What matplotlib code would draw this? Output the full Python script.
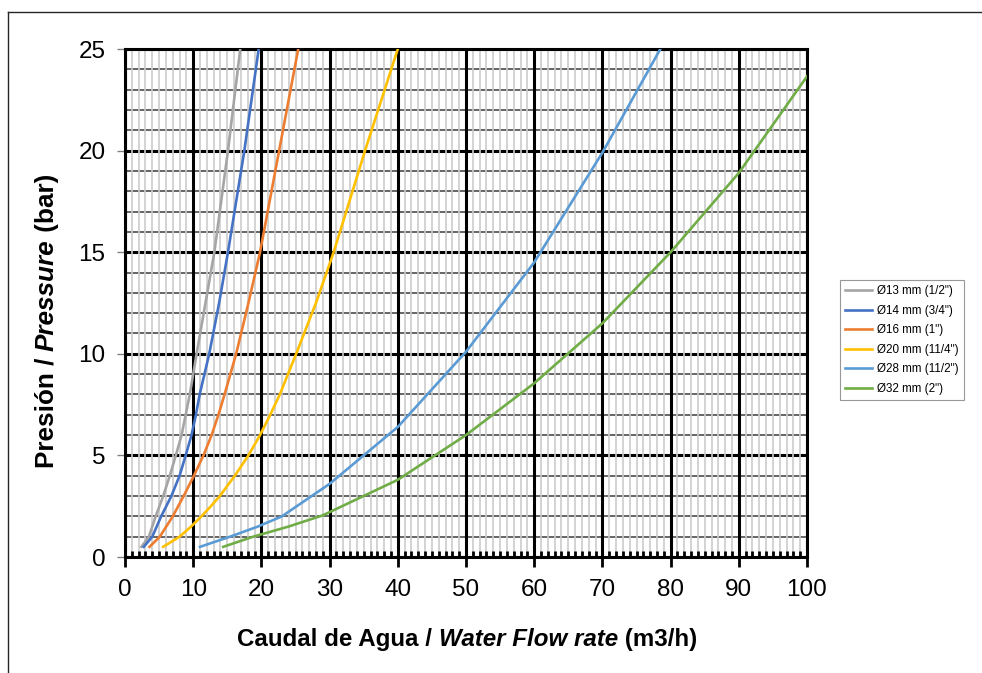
import matplotlib
matplotlib.use("Agg")
import matplotlib.pyplot as plt
from matplotlib.lines import Line2D
import numpy as np

plt.rcParams['font.family'] = ['Liberation Sans', 'DejaVu Sans']

# pressure (bar), with the matching flow (m3/h)
p_small = [0.5, 1, 1.5, 2, 2.5, 3, 4, 5, 6, 7, 8, 10, 12.5, 15, 20, 25]
q_13 = [2.4, 3.5, 4.0, 4.5, 5.05, 5.6, 6.57, 7.45, 8.3, 8.9, 9.5, 10.5, 11.8, 13.1, 15.1, 16.9]
q_14 = [2.75, 4.0, 4.65, 5.3, 6.05, 6.8, 8.0, 8.9, 9.75, 10.4, 10.95, 12.35, 13.8, 15.1, 17.5, 19.6]
q_16 = [3.6, 5.1, 6.05, 7.0, 7.8, 8.6, 10.1, 11.5, 12.7, 13.7, 14.6, 16.3, 18.1, 19.8, 22.6, 25.4]
q_20 = [5.6, 8.0, 9.7, 11.2, 12.6, 13.9, 16.1, 18.1, 19.8, 21.3, 22.7, 25.1, 28.0, 30.6, 35.2, 40.0]

q_28 = [11.0, 15.4, 19.5, 23.0, 30.0, 40.0, 50.0, 60.0, 70.0, 78.5]
p_28 = [0.5, 1.0, 1.5, 2.0, 3.6, 6.4, 10.1, 14.5, 19.9, 25.0]
q_32 = [14.4, 18.8, 24.0, 29.0, 40.0, 50.0, 60.0, 70.0, 80.0, 90.0, 100.0]
p_32 = [0.5, 1.0, 1.5, 2.05, 3.8, 6.0, 8.55, 11.5, 15.0, 18.9, 23.65]

labels = ['Ø13 mm (1/2")', 'Ø14 mm (3/4")', 'Ø16 mm (1")',
          'Ø20 mm (11/4")', 'Ø28 mm (11/2")', 'Ø32 mm (2")']
colors = ['#A5A5A5', '#4472C4', '#ED7D31', '#FFC000', '#5B9BD5', '#70AD47']

series = [(q_13, p_small), (q_14, p_small), (q_16, p_small),
          (q_20, p_small), (q_28, p_28), (q_32, p_32)]

W, H = 982, 673
fig = plt.figure(figsize=(W / 100, H / 100), dpi=100)
ax = fig.add_axes([125 / W, 1 - 557 / H, (807 - 125) / W, (557 - 49) / H])

for (q, p), lab, c in zip(series, labels, colors):
    ax.plot(q, p, color=c, lw=1.9, label=lab, zorder=5,
            solid_joinstyle='round')

ax.set_xlim(0, 100)
ax.set_ylim(0, 25)
ax.set_xticks(np.arange(0, 101, 10))
ax.set_xticks(np.arange(0, 101, 1), minor=True)
ax.set_yticks(np.arange(0, 26, 5))
ax.set_yticks(np.arange(0, 26, 1), minor=True)

# horizontal grid under the vertical one
ax.yaxis.set_zorder(1.2)
ax.xaxis.set_zorder(1.4)
ax.grid(which='minor', axis='y', color='#3c3c3c', lw=1.1)
ax.grid(which='major', axis='y', color='black', lw=2.2)
ax.grid(which='minor', axis='x', color='#cccccc', lw=1.2)
ax.grid(which='major', axis='x', color='black', lw=2.2)

ax.tick_params(axis='x', which='major', direction='out', length=7, width=2,
               color='black', labelsize=17.5, pad=9)
ax.tick_params(axis='x', which='minor', direction='in', length=4, width=2,
               color='black')
ax.tick_params(axis='y', which='major', direction='out', length=6, width=1,
               color='#808080', labelsize=17.5, pad=8)
ax.tick_params(axis='y', which='minor', length=0)

for s in ax.spines.values():
    s.set_color('black')
    s.set_linewidth(2.2)

leg = fig.legend(loc='upper left', bbox_to_anchor=(840 / W, 1 - 280 / H),
                 bbox_transform=fig.transFigure, fontsize=8.4, frameon=True,
                 fancybox=False, edgecolor='#7f7f7f', handlelength=2.3,
                 labelspacing=0.64, borderpad=0.45, handletextpad=0.45,
                 borderaxespad=0)
leg.get_frame().set_linewidth(0.8)

# outer frame (top and left edges only are visible)
fig.add_artist(Line2D([8 / W, 1], [1 - 12 / H, 1 - 12 / H], color='#262626',
                      lw=1.0, transform=fig.transFigure))
fig.add_artist(Line2D([8 / W, 8 / W], [0, 1 - 12 / H], color='#262626',
                      lw=1.0, transform=fig.transFigure))


def mixed_label(parts, x, y, vertical=False, size=14.5):
    fig.canvas.draw()
    r = fig.canvas.get_renderer()
    texts = []
    for s, style in parts:
        t = fig.text(0, 0, s, fontsize=size, fontweight='bold', fontstyle=style,
                     rotation=90 if vertical else 0, rotation_mode='anchor',
                     ha='left', va='baseline')
        texts.append(t)
    sizes = []
    for t in texts:
        bb = t.get_window_extent(r)
        sizes.append(bb.height if vertical else bb.width)
    total = sum(sizes)
    start = (y * H if vertical else x * W) - total / 2
    for t, sz in zip(texts, sizes):
        if vertical:
            t.set_position((x, start / H))
        else:
            t.set_position((start / W, y))
        start += sz


mixed_label([('Caudal de Agua / ', 'normal'), ('Water Flow rate', 'italic'),
             (' (m3/h)', 'normal')], 467 / W, 1 - 646 / H, size=17.4)
mixed_label([('Presión / ', 'normal'), ('Pressure', 'italic'),
             (' (bar)', 'normal')], 54 / W, 1 - 321 / H, vertical=True,
            size=18.8)

fig.savefig('out.png', dpi=100)
